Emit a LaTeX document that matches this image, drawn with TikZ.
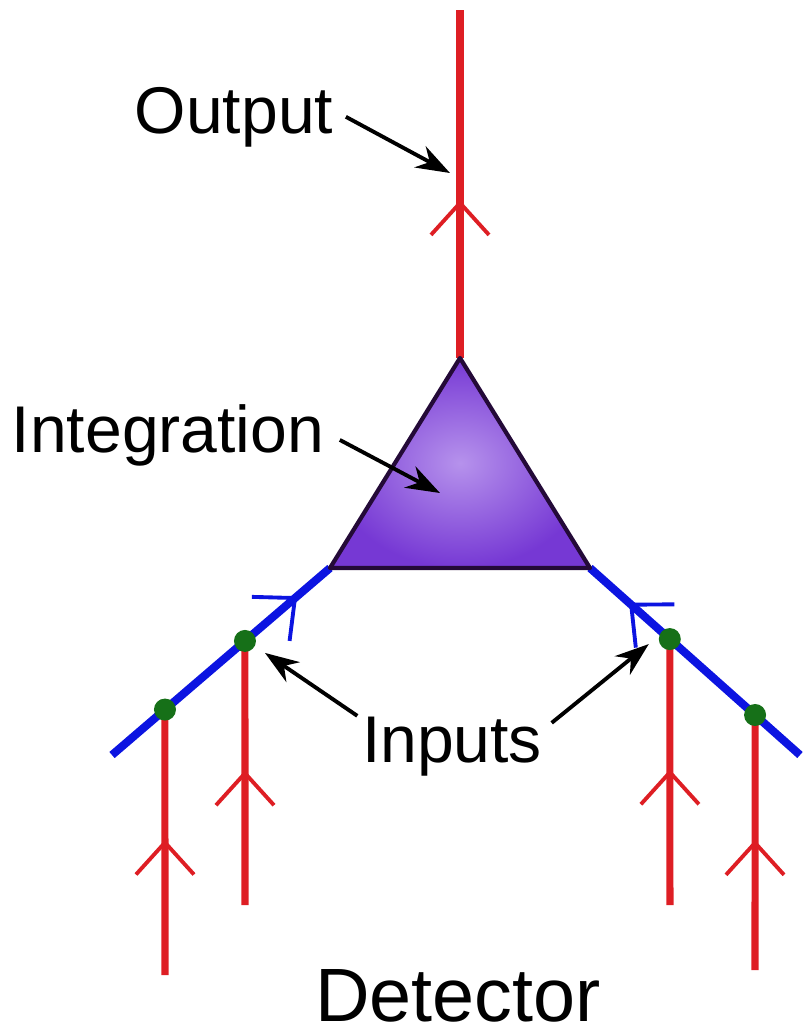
\documentclass[tikz,border=0pt]{standalone}
\usepackage{fontspec}
\setmainfont{Liberation Sans}
\usepackage{xcolor}
\usetikzlibrary{arrows.meta, decorations.markings}

\definecolor{fibred}{RGB}{222,30,36}
\definecolor{fibblue}{RGB}{12,20,225}
\definecolor{dotgreen}{RGB}{22,112,24}
\definecolor{somaout}{RGB}{118,56,212}
\definecolor{somain}{RGB}{182,146,236}
\definecolor{somaedge}{RGB}{36,10,56}

\tikzset{
  redfibre/.style={draw=fibred, line width=2pt},
  bluefibre/.style={draw=fibblue, line width=2.3pt},
  chevron/.style={postaction={decorate}, decoration={markings, mark=at position #1 with {\arrow[line width=1.1pt]{Straight Barb[length=3.2mm, width=5.8mm]}}}},
  junction/.style={circle, fill=dotgreen, inner sep=0pt, minimum size=2.2mm},
  lbl/.style={font=\fontsize{18.8pt}{22pt}\selectfont, inner sep=0pt},
  pointer/.style={-{Stealth[length=3.4mm, width=2.4mm]}, line width=1.1pt, black},
}

\begin{document}
\begin{tikzpicture}
  \useasboundingbox (0,0) rectangle (8.05,-10.35);

  % Soma
  \coordinate (apex) at (4.60,-3.58);
  \coordinate (bl) at (3.30,-5.68);
  \coordinate (br) at (5.90,-5.68);
  \coordinate (outtop) at (4.60,-0.10);
  \coordinate (lend) at (1.12,-7.55);
  \coordinate (rend) at (8.00,-7.55);

  % Dendrites
  \draw[bluefibre, chevron=0.85] (lend) -- (bl);
  \draw[bluefibre, chevron=0.815] (rend) -- (br);
  \path (bl) -- (lend) node[pos=0.39] (l1) {} node[pos=0.757] (l2) {};
  \path (br) -- (rend) node[pos=0.38] (r1) {} node[pos=0.786] (r2) {};

  % Inputs
  \coordinate (l1b) at (2.45,-9.05);
  \coordinate (l2b) at (1.65,-9.75);
  \coordinate (r1b) at (6.70,-9.05);
  \coordinate (r2b) at (7.55,-9.70);
  \draw[redfibre, chevron=0.51] (l1b) -- (l1.center);
  \draw[redfibre, chevron=0.51] (l2b) -- (l2.center);
  \draw[redfibre, chevron=0.51] (r1b) -- (r1.center);
  \draw[redfibre, chevron=0.51] (r2b) -- (r2.center);
  \foreach \n in {l1, l2, r1, r2}
    \node[junction] at (\n.center) {};

  % Output
  \draw[redfibre, chevron=0.454] (apex) -- (outtop);
  \shade[inner color=somain, outer color=somaout] (apex) -- (bl) -- (br) -- cycle;
  \draw[somaedge, line width=1.2pt, line join=round] (apex) -- (bl) -- (br) -- cycle;

  % Labels
  \node[lbl, anchor=base] (outlbl) at (2.34,-1.33) {Output};
  \node[lbl, anchor=base] (intlbl) at (1.68,-4.52) {Integration};
  \node[lbl, anchor=base] (inlbl) at (4.52,-7.62) {Inputs};
  \node[lbl, anchor=base, font=\fontsize{21.5pt}{26pt}\selectfont] (detlbl) at (4.58,-10.21) {Detector};

  \coordinate (outpt) at (4.50,-1.73);
  \coordinate (intpt) at (4.40,-4.93);
  \draw[pointer] ([shift={(0.12,0)}]outlbl.east) -- (outpt);
  \draw[pointer] ([shift={(0.15,-0.05)}]intlbl.east) -- (intpt);
  \draw[pointer] ([shift={(-0.04,0)}]inlbl.north west) -- ([shift={(0.2,-0.12)}]l1.center);
  \draw[pointer] ([shift={(0.09,-0.07)}]inlbl.north east) -- ([shift={(-0.21,-0.05)}]r1.center);
\end{tikzpicture}
\end{document}
